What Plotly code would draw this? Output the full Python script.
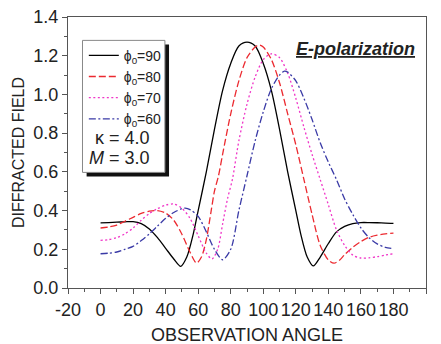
import plotly.graph_objects as go

# ---- data ----
ang_90 = [0, 5, 10, 15, 20, 25, 30, 35, 40, 45, 49.3, 53, 57, 60, 65, 70, 75, 80, 85, 90,
          95, 100, 105, 110, 115, 120, 123, 127, 130.7, 135, 140, 145, 150, 155, 160, 165, 170, 175, 180]
val_90 = [0.336, 0.338, 0.340, 0.342, 0.343, 0.333, 0.305, 0.260, 0.205, 0.150, 0.112, 0.160, 0.280, 0.400,
          0.600, 0.820, 1.020, 1.160, 1.250, 1.270,
          1.250, 1.160, 1.020, 0.820, 0.600, 0.400, 0.280, 0.160, 0.114, 0.160, 0.230, 0.290, 0.318, 0.333,
          0.338, 0.338, 0.337, 0.335, 0.334]

ang_80 = [0, 5, 10, 15, 20, 25, 30, 35, 40, 45, 50, 55, 59, 62, 65, 68, 70, 72.5, 75, 80, 85, 90,
          95, 97.5, 100, 105, 110, 115, 120, 125, 130, 135, 140, 143.5, 147, 150, 155, 160, 165, 170, 175, 180]
val_80 = [0.310, 0.315, 0.325, 0.345, 0.365, 0.385, 0.397, 0.400, 0.387, 0.350, 0.278, 0.185, 0.129, 0.160,
          0.250, 0.400, 0.500, 0.580, 0.690, 0.900, 1.070, 1.190,
          1.245, 1.255, 1.245, 1.180, 1.060, 0.900, 0.740, 0.560, 0.380, 0.220, 0.145, 0.128, 0.145, 0.172,
          0.210, 0.240, 0.262, 0.273, 0.280, 0.284]

ang_70 = [0, 5, 10, 15, 20, 25, 30, 35, 40, 45, 50, 55, 60, 65, 68.5, 72, 75, 78, 81, 85, 90, 95, 100, 105,
          110, 115, 120, 125, 130, 135, 140, 145, 150, 155, 160, 165, 170, 175, 180]
val_70 = [0.246, 0.250, 0.260, 0.280, 0.310, 0.350, 0.385, 0.410, 0.428, 0.434, 0.412, 0.360, 0.270, 0.180,
          0.150, 0.200, 0.330, 0.460, 0.560, 0.760, 0.950, 1.090, 1.180, 1.210,
          1.190, 1.110, 0.980, 0.830, 0.690, 0.560, 0.430, 0.300, 0.220, 0.170, 0.155, 0.156, 0.162, 0.170, 0.177]

ang_60 = [0, 5, 10, 15, 20, 25, 30, 35, 40, 45, 50, 52, 55, 60, 65, 70, 75, 80, 85, 90, 95, 100, 105, 110,
          113, 115, 120, 125, 130, 135, 140, 145, 150, 155, 160, 165, 170, 175, 180]
val_60 = [0.177, 0.180, 0.186, 0.200, 0.215, 0.245, 0.280, 0.320, 0.360, 0.390, 0.410, 0.413, 0.405, 0.370,
          0.290, 0.200, 0.146, 0.200, 0.400, 0.580, 0.760, 0.910, 1.030, 1.100,
          1.120, 1.115, 1.070, 0.980, 0.870, 0.750, 0.650, 0.560, 0.460, 0.380, 0.310, 0.260, 0.228, 0.210, 0.204]

series_names = ["ϕ<sub>0</sub>=90", "ϕ<sub>0</sub>=80", "ϕ<sub>0</sub>=70", "ϕ<sub>0</sub>=60"]
x_ticks = [-20, 0, 20, 40, 60, 80, 100, 120, 140, 160, 180, 200]
y_ticks = [0.0, 0.2, 0.4, 0.6, 0.8, 1.0, 1.2, 1.4]
x_title = "OBSERVATION ANGLE"
y_title = "DIFFRACTED FIELD"

colors = ["#000000", "#ec2a30", "#f036c8", "#3a3aa6"]
dashes = ["solid", "7px,3px", "2px,2.5px", "7px,2.5px,2px,2.5px"]

fig = go.Figure()
for ang, val, name, c, d in zip([ang_90, ang_80, ang_70, ang_60], [val_90, val_80, val_70, val_60],
                                series_names, colors, dashes):
    fig.add_trace(go.Scatter(x=ang, y=val, mode="lines", name=name,
                             line=dict(color=c, dash=d, width=1.3, shape="spline", smoothing=0.8)))

FONT = "Liberation Sans, Arial, sans-serif"
axis_common = dict(showline=True, linecolor="#555555", linewidth=1.2, mirror=True,
                   ticks="outside", ticklen=5, tickcolor="#555555", tickwidth=1,
                   showgrid=False, zeroline=False, automargin=False,
                   tickfont=dict(family=FONT, size=18, color="#222222"))

fig.update_xaxes(range=[-20, 200], tickvals=x_ticks, ticktext=[str(v) for v in x_ticks],
                 minor=dict(dtick=10, ticklen=3, ticks="outside", tickcolor="#555555"),
                 **axis_common)
fig.update_yaxes(range=[0, 1.4], tickvals=y_ticks, ticktext=["%.1f" % v for v in y_ticks],
                 minor=dict(dtick=0.1, ticklen=3, ticks="outside", tickcolor="#555555"),
                 title=dict(text=y_title, font=dict(family=FONT, size=16, color="#222222"),
                            standoff=4),
                 **axis_common)

# legend frame with shadow
bx0, bx1, by0, by1 = 0.0405, 0.2707, 0.4266, 0.9137
sx, sy = 0.0115, 0.0148
fig.add_shape(type="rect", xref="paper", yref="paper", x0=bx0 + sx, x1=bx1 + sx, y0=by0 - sy, y1=by1 - sy,
              fillcolor="#111111", line=dict(width=0), layer="above")
fig.add_shape(type="rect", xref="paper", yref="paper", x0=bx0, x1=bx1, y0=by0, y1=by1,
              fillcolor="white", line=dict(color="#888888", width=1), layer="above")

ann_font = dict(family=FONT, size=18, color="#222222")
fig.add_annotation(xref="paper", yref="paper", x=(122.5 - 68.2) / 357.6, y=(288.3 - 138) / 271,
                   xanchor="center", yanchor="middle", text="κ = 4.0", showarrow=False, font=ann_font)
fig.add_annotation(xref="paper", yref="paper", x=(120 - 68.2) / 357.6, y=(288.3 - 158) / 271,
                   xanchor="center", yanchor="middle", text="<i>M</i> = 3.0", showarrow=False, font=ann_font)
fig.add_annotation(xref="paper", yref="paper", x=(355 - 68.2) / 357.6, y=(288.3 - 49) / 271,
                   xanchor="center", yanchor="middle",
                   text="<b><i><u>E-polarization</u></i></b>", showarrow=False, font=ann_font)
# x-axis title
fig.add_annotation(xref="paper", yref="paper", x=0.5, y=(288.3 - 335) / 271,
                   xanchor="center", yanchor="middle", text=x_title, showarrow=False, font=ann_font)

fig.update_layout(
    width=441, height=344,
    margin=dict(l=68, r=15, t=17, b=56),
    paper_bgcolor="white", plot_bgcolor="white",
    showlegend=True,
    legend=dict(x=(84 - 68.2) / 357.6, y=(288.3 - 40) / 271, xanchor="left", yanchor="top",
                bgcolor="rgba(0,0,0,0)", borderwidth=0,
                font=dict(family=FONT, size=14, color="#222222"),
                itemwidth=30, tracegroupgap=0),
)

fig.write_html("out.html")
